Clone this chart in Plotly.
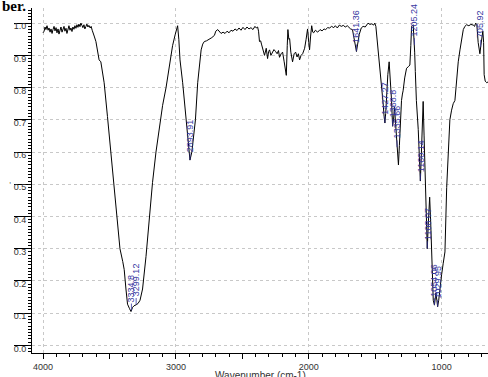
import numpy as np
import plotly.graph_objects as go

# ---------------- data ----------------
wavenumber = [
    4000, 3992, 3985, 3978, 3970, 3962, 3955, 3947, 3940, 3932, 3925, 3917, 3910, 3902, 3895, 3887,
    3880, 3872, 3865, 3857, 3850, 3842, 3835, 3827, 3820, 3812, 3805, 3797, 3790, 3782, 3775, 3767,
    3760, 3752, 3745, 3737, 3730, 3722, 3715, 3707, 3700, 3692, 3685, 3677, 3670, 3662, 3655, 3645,
    3638, 3630, 3622, 3615, 3602, 3590, 3578, 3565, 3552, 3540, 3515, 3490, 3464, 3440, 3421, 3400,
    3389, 3376, 3364, 3350, 3338, 3326, 3315, 3299, 3285, 3270, 3251, 3225, 3200, 3176, 3150, 3125,
    3100, 3074, 3050, 3025, 3005, 2987, 2978, 2969, 2949, 2924, 2905, 2894, 2880, 2865, 2853, 2836,
    2822, 2810, 2798, 2786, 2770, 2748, 2730, 2710, 2700, 2685, 2672, 2660, 2645, 2630, 2615, 2600,
    2585, 2570, 2555, 2540, 2525, 2510, 2495, 2480, 2465, 2450, 2435, 2420, 2405, 2395, 2385, 2378,
    2371, 2362, 2356, 2345, 2333, 2320, 2310, 2302, 2295, 2285, 2273, 2262, 2250, 2238, 2228, 2220,
    2208, 2197, 2185, 2175, 2169, 2162, 2157, 2150, 2144, 2135, 2122, 2110, 2099, 2088, 2078, 2069,
    2058, 2046, 2038, 2031, 2020, 2009, 2000, 1994, 1986, 1978, 1970, 1963, 1950, 1933, 1915, 1900,
    1885, 1873, 1858, 1843, 1828, 1812, 1800, 1785, 1770, 1755, 1740, 1725, 1710, 1695, 1685, 1671,
    1660, 1650, 1641, 1632, 1620, 1605, 1591, 1575, 1565, 1554, 1540, 1525, 1512, 1503, 1495, 1490,
    1478, 1465, 1452, 1440, 1433, 1427, 1421, 1415, 1405, 1395, 1386, 1377, 1369, 1362, 1355, 1348,
    1340, 1333, 1325, 1318, 1310, 1302, 1295, 1290, 1278, 1264, 1250, 1239, 1232, 1226, 1214, 1208,
    1203, 1198, 1190, 1176, 1168, 1160, 1152, 1145, 1139, 1132, 1124, 1116, 1108, 1100, 1090, 1082,
    1075, 1068, 1063, 1054, 1048, 1043, 1036, 1030, 1022, 1013, 1000, 988, 975, 962, 950, 938,
    925, 913, 900, 887, 875, 862, 850, 837, 825, 812, 795, 780, 762, 752, 744, 735,
    725, 712, 705, 697, 690, 684, 680, 672, 660, 650,
]
transmittance = [
    0.970, 0.975, 0.988, 0.980, 0.992, 0.978, 0.985, 0.972, 0.982, 0.968, 0.980, 0.990, 0.976, 0.986, 0.970, 0.982,
    0.966, 0.978, 0.988, 0.972, 0.984, 0.990, 0.975, 0.984, 0.968, 0.980, 0.992, 0.978, 0.985, 0.974, 0.988, 0.981,
    0.992, 0.984, 0.995, 0.987, 0.997, 0.989, 1.000, 0.993, 0.986, 0.995, 0.982, 0.990, 0.997, 0.988, 0.993, 0.985,
    0.990, 0.978, 0.970, 0.960, 0.943, 0.910, 0.886, 0.880, 0.850, 0.815, 0.710, 0.600, 0.505, 0.390, 0.300, 0.260,
    0.235, 0.175, 0.128, 0.115, 0.105, 0.118, 0.123, 0.126, 0.130, 0.140, 0.175, 0.276, 0.400, 0.505, 0.600, 0.680,
    0.745, 0.800, 0.865, 0.930, 0.965, 0.992, 0.950, 0.886, 0.815, 0.700, 0.610, 0.575, 0.600, 0.650, 0.700, 0.815,
    0.880, 0.917, 0.935, 0.943, 0.945, 0.950, 0.955, 0.962, 0.975, 0.980, 0.972, 0.968, 0.972, 0.968, 0.975, 0.970,
    0.978, 0.975, 0.982, 0.977, 0.985, 0.978, 0.987, 0.980, 0.988, 0.982, 0.986, 0.980, 0.990, 0.985, 0.988, 0.975,
    0.943, 0.945, 0.935, 0.920, 0.900, 0.922, 0.890, 0.912, 0.917, 0.900, 0.908, 0.918, 0.912, 0.905, 0.915, 0.894,
    0.905, 0.910, 0.880, 0.850, 0.838, 0.930, 0.980, 0.950, 0.952, 0.910, 0.880, 0.905, 0.910, 0.895, 0.905, 0.886,
    0.900, 0.905, 0.915, 0.922, 0.950, 0.982, 0.940, 0.917, 0.960, 0.992, 0.972, 0.970, 0.978, 0.972, 0.980, 0.976,
    0.982, 0.980, 0.986, 0.985, 0.990, 0.986, 0.992, 0.985, 0.994, 0.990, 0.993, 0.988, 0.992, 0.985, 0.982, 0.980,
    0.955, 0.930, 0.912, 0.935, 0.965, 0.985, 0.990, 0.988, 0.995, 1.000, 0.996, 0.998, 0.994, 1.000, 0.990, 0.970,
    0.920, 0.865, 0.810, 0.750, 0.710, 0.690, 0.720, 0.770, 0.840, 0.880, 0.830, 0.760, 0.680, 0.700, 0.740, 0.700,
    0.640, 0.600, 0.560, 0.620, 0.700, 0.760, 0.780, 0.790, 0.830, 0.860, 0.865, 0.870, 0.930, 0.990, 0.995, 0.960,
    0.910, 0.850, 0.760, 0.670, 0.580, 0.510, 0.600, 0.700, 0.757, 0.650, 0.500, 0.380, 0.300, 0.380, 0.460, 0.380,
    0.270, 0.190, 0.140, 0.125, 0.150, 0.163, 0.140, 0.120, 0.140, 0.180, 0.220, 0.255, 0.290, 0.490, 0.600, 0.700,
    0.730, 0.750, 0.760, 0.835, 0.880, 0.917, 0.955, 0.980, 0.990, 0.995, 0.992, 0.996, 0.994, 0.990, 1.000, 0.995,
    0.940, 0.905, 0.930, 0.960, 0.975, 0.940, 0.840, 0.820, 0.815, 0.818,
]

peak_wn = [3334.8, 3299.12, 2893.91, 1641.36, 1427.27, 1368.8, 1335.66, 1205.24,
           1160.14, 1108.07, 1054.06, 1029.95, 705.92]
peak_labels = ["3334.8", "3299.12", "2893.91", "1641.36", "1427.27", "1368.8", "1335.66", "1205.24",
               "1160.14", "1108.07", "1054.06", "1029.95", "705.92"]

x_tick_vals = [4000, 3000, 2000, 1000]
x_tick_labels = ["4000", "3000", "2000", "1000"]
x_mid_ticks = [3500, 2500, 1500]
y_tick_vals = [0.0, 0.1, 0.2, 0.3, 0.4, 0.5, 0.6, 0.7, 0.8, 0.9, 1.0]
y_tick_labels = ["0.0", "0.1", "0.2", "0.3", "0.4", "0.5", "0.6", "0.7", "0.8", "0.9", "1.0"]

x_title = "Wavenumber (cm-1)"

# ---------------- figure ----------------
X_RANGE = [4083, 651]
LABEL_BLUE = "#3535a0"

fig = go.Figure()
fig.add_trace(go.Scatter(x=wavenumber, y=transmittance, mode="lines",
                         line=dict(color="black", width=1), hoverinfo="skip", showlegend=False))
# empty trace to hold the secondary tick axis
fig.add_trace(go.Scatter(x=[], y=[], xaxis="x2", showlegend=False))

wn_sorted = np.array(wavenumber[::-1], dtype=float)
tr_sorted = np.array(transmittance[::-1], dtype=float)
peak_y = np.interp(peak_wn, wn_sorted, tr_sorted)

for w, lab, py in zip(peak_wn, peak_labels, peak_y):
    fig.add_annotation(x=w, y=py, xref="x", yref="y", text=lab, textangle=-90,
                       showarrow=True, arrowhead=0, arrowwidth=0.8, arrowcolor=LABEL_BLUE,
                       ax=0, ay=-(len(lab) * 2.4 + 8), standoff=0,
                       font=dict(family="Liberation Sans, Arial, sans-serif", size=9, color=LABEL_BLUE))

fig.add_annotation(xref="paper", yref="paper", x=0.5, y=-0.043, yanchor="top", xanchor="center",
                   text=x_title, showarrow=False,
                   font=dict(family="Liberation Sans, Arial, sans-serif", size=10, color="#333"))
fig.add_annotation(xref="paper", yref="paper", x=-0.070, y=1.036, yanchor="top", xanchor="left",
                   text="<b>ber.</b>", showarrow=False,
                   font=dict(family="Liberation Serif, Times New Roman, serif", size=15, color="black"))
fig.add_annotation(xref="paper", yref="paper", x=-0.048, y=0.50, yanchor="middle", xanchor="center",
                   text=",", showarrow=False,
                   font=dict(family="Liberation Sans, Arial, sans-serif", size=8, color="#333"))

fig.update_layout(
    width=488, height=377,
    margin=dict(l=32, r=0, t=8, b=24, autoexpand=False),
    paper_bgcolor="white", plot_bgcolor="white",
    font=dict(family="Liberation Sans, Arial, sans-serif", size=9, color="#333"),
    xaxis=dict(range=X_RANGE, tickvals=x_tick_vals, ticktext=x_tick_labels,
               ticks="outside", ticklen=5, tickwidth=1, tickcolor="black",
               showline=True, linecolor="black", linewidth=1, automargin=False,
               showgrid=True, gridcolor="#c8c8c8", griddash="dot", gridwidth=1,
               zeroline=False, tickfont=dict(size=9, color="#333"),
               minor=dict(dtick=100, tick0=0, ticks="outside", ticklen=3, tickcolor="black",
                          showgrid=False)),
    xaxis2=dict(range=X_RANGE, overlaying="x", anchor="y", side="bottom",
                tickvals=x_mid_ticks, ticks="outside", ticklen=5, tickcolor="black",
                showticklabels=False, showgrid=False, showline=False, zeroline=False),
    yaxis=dict(range=[-0.0236, 1.047], tickvals=y_tick_vals, ticktext=y_tick_labels,
               ticks="outside", ticklen=17, tickwidth=1, tickcolor="black",
               showline=True, linecolor="black", linewidth=1, automargin=False,
               showgrid=True, gridcolor="#c8c8c8", griddash="dot", gridwidth=1,
               zeroline=False, tickfont=dict(size=9, color="#333"),
               ticklabelstandoff=-14, ticklabelshift=3,
               minor=dict(dtick=0.01, tick0=0, ticks="outside", ticklen=3, tickcolor="black",
                          showgrid=False)),
)

fig.write_html("out.html", post_script="document.body.style.margin='0';",
               config={"displayModeBar": False})
